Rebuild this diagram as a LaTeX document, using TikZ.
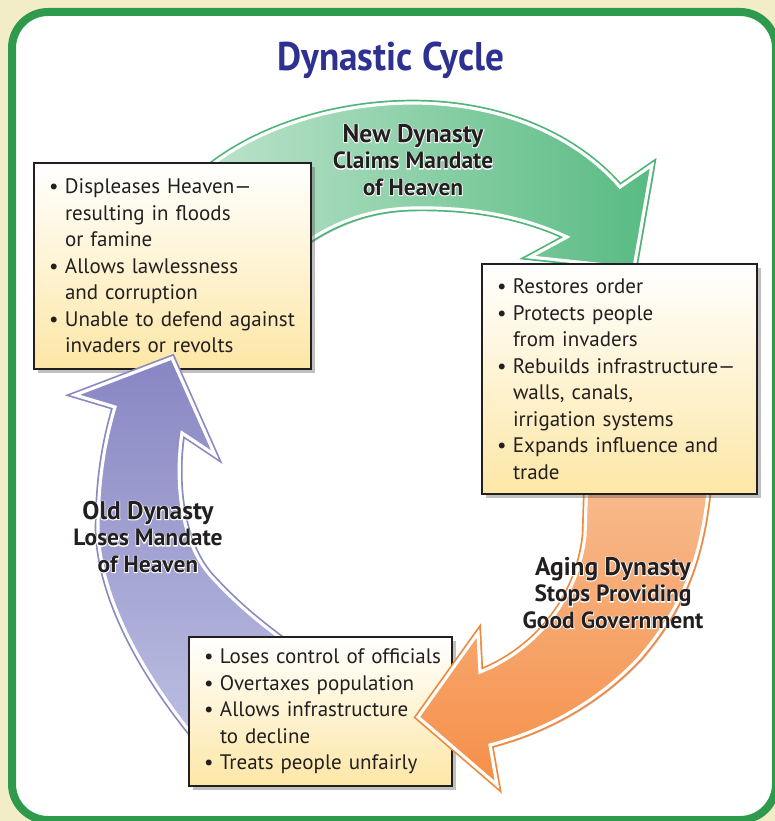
\documentclass[tikz,border=0pt]{standalone}
\usepackage{fontspec}
\setmainfont{PT Sans}
\newfontfamily\titlefont[FakeStretch=0.93]{PT Sans}
\newfontfamily\halofont[FakeBold=6]{PT Sans}
\usetikzlibrary{shadows}
\definecolor{framegreen}{HTML}{2E9A4C}
\definecolor{cream}{HTML}{F2EDC6}
\definecolor{titleblue}{HTML}{2E3192}
\definecolor{boxyellow}{HTML}{FDE7A6}
\definecolor{inkblack}{HTML}{231F20}
\definecolor{greenlight}{HTML}{BCE3CB}
\definecolor{greendark}{HTML}{58BB82}
\definecolor{greenedge}{HTML}{4DB477}
\definecolor{orangelight}{HTML}{F8BC90}
\definecolor{orangedark}{HTML}{F58F48}
\definecolor{orangeedge}{HTML}{F0873A}
\definecolor{purplelight}{HTML}{BCC0E2}
\definecolor{purpledark}{HTML}{8886C3}
\definecolor{purpleedge}{HTML}{8A88C2}
\tikzset{
  listbox/.style={draw=inkblack,line width=2pt,top color=white,bottom color=boxyellow,
    anchor=north west,inner xsep=0pt,inner ysep=0pt,align=left,text=inkblack,
    font=\fontsize{21}{26.5}\selectfont,
    drop shadow={shadow xshift=4pt,shadow yshift=-4pt,opacity=.35,fill=black!70}},
  band/.style={draw=white,line width=3.2pt,line join=miter,miter limit=4,
    preaction={fill=black,opacity=.2,transform canvas={xshift=3pt,yshift=-3pt}},
    preaction={draw=#1,line width=6.6pt,line join=miter,miter limit=4}},
  bandlabel/.style={align=center,text=inkblack,inner sep=0pt,
    font=\fontsize{23.5}{26.5}\selectfont\bfseries}
}
\newcommand\itm{\hspace*{15pt}\makebox[16pt][l]{\textbullet}}
\newcommand\cnt{\hspace*{31pt}}
\newcommand\halolabel[3]{%
  \node[bandlabel,text=white,font=\halofont\fontsize{23.5}{26.5}\selectfont\bfseries] at #2 {#3};
  \node[bandlabel] (#1) at #2 {#3};}

\begin{document}
\begin{tikzpicture}[x=1pt,y=-1pt]
\useasboundingbox (0,0) rectangle (775,821);
\fill[cream] (0,0) rectangle (775,821);
\draw[framegreen,line width=8pt,fill=white,rounded corners=36pt] (12,12) rectangle (776,820);
\node[font=\titlefont\bfseries\fontsize{40}{42}\selectfont,text=titleblue] (title) at (391,60) {Dynastic Cycle};

\path[band=greenedge,left color=greenlight,right color=greendark]
  (205,170) .. controls (260,125) and (340,103) .. (413,103)
  .. controls (500,103) and (575,135) .. (620,187)
  -- (652,165) -- (634,268) -- (530,257) -- (567,237)
  .. controls (520,215) and (468,207) .. (413,208)
  .. controls (365,209) and (325,225) .. (285,258) -- cycle;

\node[listbox,minimum width=277pt,minimum height=206pt,text width=277pt] (displeases) at (33,162)
  {\itm Displeases Heaven—\\ \cnt resulting in floods\\ \cnt or famine\\
   \itm Allows lawlessness\\ \cnt and corruption\\
   \itm Unable to defend against\\ \cnt invaders or revolts};

\path[band=purpleedge,top color=purpledark,bottom color=purplelight]
  (205,750) .. controls (145,680) and (100,600) .. (98,530)
  .. controls (98,480) and (105,440) .. (115,407)
  -- (75,395) -- (172,358) -- (215,455) -- (182,433)
  .. controls (175,480) and (180,540) .. (210,575)
  .. controls (235,603) and (265,628) .. (300,652) -- cycle;

\node[listbox,minimum width=263pt,minimum height=149pt,text width=263pt] (loses) at (188,636)
  {\itm Loses control of officials\\ \itm Overtaxes population\\
   \itm Allows infrastructure\\ \cnt to decline\\ \itm Treats people unfairly};

\path[band=orangeedge,top color=orangelight,bottom color=orangedark]
  (712,470) -- (708,493) .. controls (700,565) and (680,610) .. (640,657)
  .. controls (600,700) and (548,730) .. (490,745)
  -- (497,785) -- (418,717) -- (478,633) -- (480,672)
  .. controls (535,650) and (578,600) .. (585,535) -- (587,470) -- cycle;

\node[listbox,minimum width=275pt,minimum height=230pt,text width=275pt] (restores) at (481,263)
  {\itm Restores order\\ \itm Protects people\\ \cnt from invaders\\
   \itm Rebuilds infrastructure—\\ \cnt walls, canals,\\ \cnt irrigation systems\\
   \itm Expands influence and\\ \cnt trade};

\halolabel{newdyn}{(413,160)}{{\fontsize{25.5}{26.5}\selectfont New Dynasty}\\ Claims Mandate\\ of Heaven}
\halolabel{olddyn}{(148,537)}{{\fontsize{25.5}{26.5}\selectfont Old Dynasty}\\ Loses Mandate\\ of Heaven}
\halolabel{agingdyn}{(613,593)}{{\fontsize{25.5}{26.5}\selectfont Aging Dynasty}\\ Stops Providing\\ Good Government}
\end{tikzpicture}
\end{document}
